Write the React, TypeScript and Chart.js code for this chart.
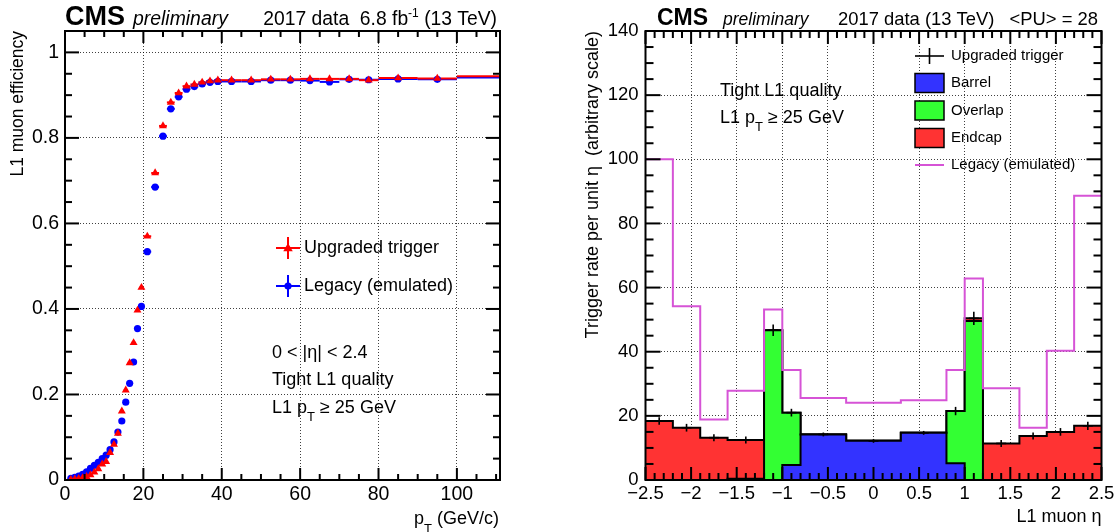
import React, { useEffect, useRef } from "react";
import { Chart, registerables } from "chart.js";
Chart.register(...registerables);

const FONT = '"Liberation Sans", Arial, Helvetica, sans-serif';

// ---------------- Left panel: L1 muon efficiency vs pT ----------------
const ptCenters = [
  1.5, 2.5, 3.5, 4.5, 5.5, 6.5, 7.5, 8.5, 9.5, 10.5, 11.5, 12.5, 13.5, 14.5, 15.5, 16.5, 17.5, 18.5, 19.5,
  21, 23, 25, 27, 29, 31, 33, 35, 37, 39,
  42.5, 47.5, 52.5, 57.5, 62.5, 67.5, 72.5, 77.5,
  85, 95, 150,
];
const ptHalfWidths = [
  0.5, 0.5, 0.5, 0.5, 0.5, 0.5, 0.5, 0.5, 0.5, 0.5, 0.5, 0.5, 0.5, 0.5, 0.5, 0.5, 0.5, 0.5, 0.5,
  1, 1, 1, 1, 1, 1, 1, 1, 1, 1,
  2.5, 2.5, 2.5, 2.5, 2.5, 2.5, 2.5, 2.5,
  5, 5, 50,
];
const effUpgraded = [
  0.001, 0.002, 0.003, 0.005, 0.008, 0.012, 0.018, 0.026, 0.037, 0.043, 0.064, 0.083, 0.109, 0.161, 0.21, 0.274, 0.321, 0.397, 0.45,
  0.57, 0.718, 0.828, 0.883, 0.905, 0.921, 0.925, 0.93, 0.933, 0.935,
  0.935, 0.935, 0.937, 0.937, 0.938, 0.938, 0.938, 0.935,
  0.94, 0.939, 0.944,
];
const effLegacy = [
  0.004, 0.006, 0.009, 0.013, 0.019, 0.027, 0.034, 0.041, 0.05, 0.058, 0.071, 0.089, 0.112, 0.138, 0.182, 0.226, 0.276, 0.354, 0.406,
  0.534, 0.685, 0.804, 0.868, 0.896, 0.914, 0.92, 0.926, 0.93, 0.932,
  0.932, 0.932, 0.935, 0.935, 0.934, 0.931, 0.937, 0.936,
  0.938, 0.937, 0.941,
];

// ---------------- Right panel: trigger rate vs eta ----------------
const etaEdges = [-2.5, -2.2, -1.9, -1.6, -1.2, -1.0, -0.8, -0.3, 0.3, 0.8, 1.0, 1.2, 1.6, 1.9, 2.2, 2.5];
const rateBarrel = [0, 0, 0, 0, 0, 4.7, 14.2, 12.2, 14.7, 5.2, 0, 0, 0, 0, 0];
const rateOverlap = [0, 0, 0, 0.4, 46.7, 16.3, 0, 0, 0, 16.3, 49.6, 0, 0, 0, 0];
const rateEndcap = [18.4, 16.3, 13.2, 12.1, 0, 0, 0, 0, 0, 0, 0.8, 11.4, 13.7, 15.0, 16.9];
const rateLegacy = [100, 54.2, 18.9, 27.8, 53.2, 34.3, 25.6, 24.1, 24.9, 34.3, 62.8, 28.6, 16.3, 40.3, 88.6];
const rateUpgradedErr = [1.2, 1.2, 1.1, 1.1, 1.8, 1.2, 0.6, 0.6, 0.6, 1.3, 2.1, 1.1, 1.1, 1.2, 1.3];

const RED = "#ff0000";
const BLUE = "#0000ff";
const FILL_BARREL = "#3333ff";
const FILL_OVERLAP = "#33ff33";
const FILL_ENDCAP = "#ff3333";
const MAGENTA = "#d653d6";

type Seg = { t: string; size: number; weight?: string; style?: string; dy?: number };
const fontStr = (s: Seg) => `${s.style || "normal"} ${s.weight || "normal"} ${s.size}px ${FONT}`;

function drawRich(ctx: CanvasRenderingContext2D, x: number, y: number, segs: Seg[], align = "left", baseline: CanvasTextBaseline = "alphabetic") {
  ctx.save();
  ctx.textBaseline = baseline;
  ctx.textAlign = "left";
  ctx.fillStyle = "#000";
  let total = 0;
  segs.forEach((s) => {
    ctx.font = fontStr(s);
    total += ctx.measureText(s.t).width;
  });
  let cx = align === "right" ? x - total : align === "center" ? x - total / 2 : x;
  segs.forEach((s) => {
    ctx.font = fontStr(s);
    ctx.fillText(s.t, cx, y + (s.dy || 0));
    cx += ctx.measureText(s.t).width;
  });
  ctx.restore();
}

function seg(ctx: CanvasRenderingContext2D, x1: number, y1: number, x2: number, y2: number) {
  ctx.beginPath();
  ctx.moveTo(x1, y1);
  ctx.lineTo(x2, y2);
  ctx.stroke();
}

function drawFrame(chart: any, xMajor: number, xMinor: number, yMajor: number, yMinor: number, xl: number[], yl: number[]) {
  const { ctx, chartArea: a } = chart;
  const xs = chart.scales.x;
  const ys = chart.scales.y;
  ctx.save();
  ctx.strokeStyle = "#000";
  ctx.lineWidth = 2;
  const isMaj = (v: number, m: number) => Math.abs(v / m - Math.round(v / m)) < 1e-6;
  const nx = Math.round((xs.max - xs.min) / xMinor);
  for (let k = 0; k <= nx + 1; k++) {
    const v = xs.min + k * xMinor;
    if (v > xs.max + 1e-9) break;
    const len = isMaj(v, xMajor) ? xl[0] : xl[1];
    const px = xs.getPixelForValue(v);
    seg(ctx, px, a.bottom, px, a.bottom - len);
    seg(ctx, px, a.top, px, a.top + len);
  }
  const ny = Math.round((ys.max - ys.min) / yMinor);
  for (let k = 0; k <= ny + 1; k++) {
    const v = ys.min + k * yMinor;
    if (v > ys.max + 1e-9) break;
    const len = isMaj(v, yMajor) ? yl[0] : yl[1];
    const py = ys.getPixelForValue(v);
    seg(ctx, a.left, py, a.left + len, py);
    seg(ctx, a.right, py, a.right - len, py);
  }
  ctx.strokeRect(a.left, a.top, a.right - a.left, a.bottom - a.top);
  ctx.restore();
}

function drawTriangle(ctx: CanvasRenderingContext2D, x: number, y: number, r: number, color: string) {
  ctx.beginPath();
  ctx.moveTo(x, y - r);
  ctx.lineTo(x + r * 0.95, y + r * 0.65);
  ctx.lineTo(x - r * 0.95, y + r * 0.65);
  ctx.closePath();
  ctx.fillStyle = color;
  ctx.fill();
}

const leftPlugin = {
  id: "leftDecor",
  beforeDatasetsDraw(chart: any) {
    const { ctx, chartArea: a } = chart;
    const xs = chart.scales.x;
    const ys = chart.scales.y;
    ctx.save();
    ctx.beginPath();
    ctx.rect(a.left, a.top, a.right - a.left, a.bottom - a.top);
    ctx.clip();
    ctx.lineWidth = 2;
    const dsets = chart.data.datasets;
    for (let d = dsets.length - 1; d >= 0; d--) {
      const ds = dsets[d];
      ctx.strokeStyle = ds.borderColor;
      ds.data.forEach((p: any, i: number) => {
        const hw = ptHalfWidths[i];
        const py = ys.getPixelForValue(p.y);
        seg(ctx, xs.getPixelForValue(p.x - hw), py, xs.getPixelForValue(p.x + hw), py);
      });
    }
    ctx.restore();
  },
  afterDatasetsDraw(chart: any) {
    drawFrame(chart, 20, 5, 0.2, 0.05, [12, 6], [14, 7]);
  },
  afterDraw(chart: any) {
    const ctx = chart.ctx as CanvasRenderingContext2D;
    drawRich(ctx, 65, 25, [{ t: "CMS", size: 27, weight: "bold" }]);
    drawRich(ctx, 133, 25, [{ t: "preliminary", size: 19.4, style: "italic" }]);
    drawRich(ctx, 497, 25, [
      { t: "2017 data  6.8 fb", size: 19.3 },
      { t: "-1", size: 12, dy: -8 },
      { t: " (13 TeV)", size: 19.3 },
    ], "right");
    // legend
    ctx.save();
    ctx.lineWidth = 2;
    ctx.strokeStyle = RED;
    seg(ctx, 276, 248, 300, 248);
    seg(ctx, 288, 237, 288, 259);
    drawTriangle(ctx, 288, 248, 5, RED);
    ctx.strokeStyle = BLUE;
    seg(ctx, 276, 286, 300, 286);
    seg(ctx, 288, 275, 288, 297);
    ctx.beginPath();
    ctx.arc(288, 286, 3.6, 0, Math.PI * 2);
    ctx.fillStyle = BLUE;
    ctx.fill();
    ctx.restore();
    drawRich(ctx, 304, 248, [{ t: "Upgraded trigger", size: 18 }], "left", "middle");
    drawRich(ctx, 304, 286, [{ t: "Legacy (emulated)", size: 18 }], "left", "middle");
    drawRich(ctx, 272, 353, [{ t: "0 < |η| < 2.4", size: 18 }], "left", "middle");
    drawRich(ctx, 272, 380, [{ t: "Tight L1 quality", size: 18 }], "left", "middle");
    drawRich(ctx, 272, 408, [
      { t: "L1 p", size: 18 },
      { t: "T", size: 13, dy: 9 },
      { t: " ≥ 25 GeV", size: 18 },
    ], "left", "middle");
    drawRich(ctx, 499, 524, [
      { t: "p", size: 18 },
      { t: "T", size: 13, dy: 9 },
      { t: " (GeV/c)", size: 18 },
    ], "right");
  },
};

const rightPlugin = {
  id: "rightDecor",
  afterDatasetsDraw(chart: any) {
    const { ctx } = chart;
    const xs = chart.scales.x;
    const ys = chart.scales.y;
    const crosses = chart.data.datasets[0].data;
    ctx.save();
    ctx.strokeStyle = "#000";
    ctx.lineWidth = 1.6;
    crosses.forEach((p: any, i: number) => {
      const px = xs.getPixelForValue(p.x);
      const py = ys.getPixelForValue(p.y);
      seg(ctx, px - 5, py, px + 5, py);
      seg(ctx, px, ys.getPixelForValue(p.y - rateUpgradedErr[i]), px, ys.getPixelForValue(p.y + rateUpgradedErr[i]));
    });
    ctx.restore();
    drawFrame(chart, 0.5, 0.1, 20, 5, [13, 7], [15, 8]);
  },
  afterDraw(chart: any) {
    const ctx = chart.ctx as CanvasRenderingContext2D;
    drawRich(ctx, 98, 25, [{ t: "CMS", size: 23, weight: "bold" }]);
    drawRich(ctx, 164, 25, [{ t: "preliminary", size: 17.5, style: "italic" }]);
    drawRich(ctx, 279, 25, [{ t: "2017 data (13 TeV)", size: 18.4 }]);
    drawRich(ctx, 539, 25, [{ t: "<PU> = 28", size: 18.4 }], "right");
    // legend
    ctx.save();
    ctx.strokeStyle = "#000";
    ctx.lineWidth = 1.6;
    seg(ctx, 356, 56, 385, 56);
    seg(ctx, 370.5, 48, 370.5, 64);
    const boxes: [number, string][] = [[83, FILL_BARREL], [110.5, FILL_OVERLAP], [138, FILL_ENDCAP]];
    boxes.forEach(([cy, col]) => {
      ctx.fillStyle = col;
      ctx.fillRect(356, cy - 9.5, 29, 19);
      ctx.lineWidth = 1.5;
      ctx.strokeRect(356, cy - 9.5, 29, 19);
    });
    ctx.strokeStyle = MAGENTA;
    ctx.lineWidth = 2;
    seg(ctx, 356, 165, 385, 165);
    ctx.restore();
    drawRich(ctx, 392, 56, [{ t: "Upgraded trigger", size: 15 }], "left", "middle");
    drawRich(ctx, 392, 83, [{ t: "Barrel", size: 15 }], "left", "middle");
    drawRich(ctx, 392, 110.5, [{ t: "Overlap", size: 15 }], "left", "middle");
    drawRich(ctx, 392, 138, [{ t: "Endcap", size: 15 }], "left", "middle");
    drawRich(ctx, 392, 165, [{ t: "Legacy (emulated)", size: 15 }], "left", "middle");
    drawRich(ctx, 161, 91, [{ t: "Tight L1 quality", size: 18 }], "left", "middle");
    drawRich(ctx, 161, 118, [
      { t: "L1 p", size: 18 },
      { t: "T", size: 13, dy: 9 },
      { t: " ≥ 25 GeV", size: 18 },
    ], "left", "middle");
  },
};

function stepPoints(vals: number[]) {
  const pts: { x: number; y: number }[] = [];
  vals.forEach((v, i) => {
    pts.push({ x: etaEdges[i], y: v });
    pts.push({ x: etaEdges[i + 1], y: v });
  });
  return pts;
}

const gridCommon = (size: number, padding: number) => ({
  grid: { display: true, drawTicks: false, color: "rgba(0,0,0,0.75)", lineWidth: 1 },
  border: { display: false, dash: [1, 2] },
  ticks: { color: "#000", font: { family: FONT, size }, padding },
});

export default function App() {
  const leftRef = useRef<HTMLCanvasElement>(null);
  const rightRef = useRef<HTMLCanvasElement>(null);

  useEffect(() => {
    const leftChart = new Chart(leftRef.current as HTMLCanvasElement, {
      type: "scatter",
      data: {
        datasets: [
          {
            label: "Upgraded trigger",
            data: ptCenters.map((x, i) => ({ x, y: effUpgraded[i] })),
            borderColor: RED,
            backgroundColor: RED,
            pointStyle: "triangle",
            pointRadius: 4.6,
            pointBorderWidth: 0,
          },
          {
            label: "Legacy (emulated)",
            data: ptCenters.map((x, i) => ({ x, y: effLegacy[i] })),
            borderColor: BLUE,
            backgroundColor: BLUE,
            pointStyle: "circle",
            pointRadius: 3.6,
            pointBorderWidth: 0,
          },
        ],
      } as any,
      options: {
        animation: false,
        responsive: false,
        devicePixelRatio: 1,
        events: [],
        layout: { padding: { left: 4, top: 31, right: 59, bottom: 0 } },
        plugins: { legend: { display: false }, tooltip: { enabled: false } },
        scales: {
          x: {
            type: "linear",
            min: 0,
            max: 111,
            ...gridCommon(19.5, 3),
            ticks: { ...gridCommon(19.5, 3).ticks, stepSize: 20, includeBounds: false, maxRotation: 0 },
            afterFit: (s: any) => { s.height = 52; },
          },
          y: {
            type: "linear",
            min: 0,
            max: 1.05,
            ...gridCommon(19.5, 6),
            ticks: {
              ...gridCommon(19.5, 6).ticks,
              stepSize: 0.2,
              includeBounds: false,
              callback: (v: any) => String(Math.round(Number(v) * 10) / 10),
            },
            title: { display: true, text: "L1 muon efficiency", align: "end", color: "#000", font: { family: FONT, size: 17.5 } },
            afterFit: (s: any) => { s.width = 61; },
          },
        },
      } as any,
      plugins: [leftPlugin],
    });

    const centers = etaEdges.slice(0, -1).map((e, i) => (e + etaEdges[i + 1]) / 2);
    const cumBarrel = rateBarrel.slice();
    const cumOverlap = rateBarrel.map((v, i) => v + rateOverlap[i]);
    const cumTotal = cumOverlap.map((v, i) => v + rateEndcap[i]);

    const rightChart = new Chart(rightRef.current as HTMLCanvasElement, {
      type: "line",
      data: {
        datasets: [
          {
            label: "Upgraded trigger",
            data: centers.map((x, i) => ({ x, y: cumTotal[i] })),
            showLine: false,
            pointRadius: 0,
            order: 0,
          },
          {
            label: "Legacy (emulated)",
            data: stepPoints(rateLegacy),
            borderColor: MAGENTA,
            borderWidth: 2,
            pointRadius: 0,
            fill: false,
            order: 1,
          },
          {
            label: "Barrel",
            data: stepPoints(cumBarrel),
            borderColor: "#000",
            borderWidth: 2,
            backgroundColor: FILL_BARREL,
            pointRadius: 0,
            fill: "origin",
            order: 2,
          },
          {
            label: "Overlap",
            data: stepPoints(cumOverlap),
            borderColor: "#000",
            borderWidth: 2,
            backgroundColor: FILL_OVERLAP,
            pointRadius: 0,
            fill: "-1",
            order: 3,
          },
          {
            label: "Endcap",
            data: stepPoints(cumTotal),
            borderColor: "#000",
            borderWidth: 2,
            backgroundColor: FILL_ENDCAP,
            pointRadius: 0,
            fill: "-1",
            order: 4,
          },
        ],
      } as any,
      options: {
        animation: false,
        responsive: false,
        devicePixelRatio: 1,
        events: [],
        layout: { padding: { left: 19, top: 31, right: 16.5, bottom: 0 } },
        plugins: { legend: { display: false }, tooltip: { enabled: false } },
        scales: {
          x: {
            type: "linear",
            min: -2.5,
            max: 2.5,
            ...gridCommon(18.5, 3),
            ticks: {
              ...gridCommon(18.5, 3).ticks,
              stepSize: 0.5,
              maxRotation: 0,
              autoSkip: false,
              callback: (v: any) => String(Math.round(Number(v) * 10) / 10).replace("-", "\u2212"),
            },
            title: { display: true, text: "L1 muon η", align: "end", color: "#000", font: { family: FONT, size: 18 } },
            afterFit: (s: any) => { s.height = 52; },
          },
          y: {
            type: "linear",
            min: 0,
            max: 140,
            ...gridCommon(18.5, 7),
            ticks: { ...gridCommon(18.5, 7).ticks, stepSize: 20 },
            title: {
              display: true,
              text: "Trigger rate per unit η  (arbitrary scale)",
              align: "end",
              color: "#000",
              font: { family: FONT, size: 18 },
            },
            afterFit: (s: any) => { s.width = 67.5; },
          },
        },
      } as any,
      plugins: [rightPlugin],
    });

    return () => {
      leftChart.destroy();
      rightChart.destroy();
    };
  }, []);

  return (
    <div style={{ position: "absolute", left: 0, top: 0, width: 1118, height: 532, background: "#fff" }}>
      <canvas ref={leftRef} width={559} height={532} style={{ position: "absolute", left: 0, top: 0 }} />
      <canvas ref={rightRef} width={559} height={532} style={{ position: "absolute", left: 559, top: 0 }} />
    </div>
  );
}
